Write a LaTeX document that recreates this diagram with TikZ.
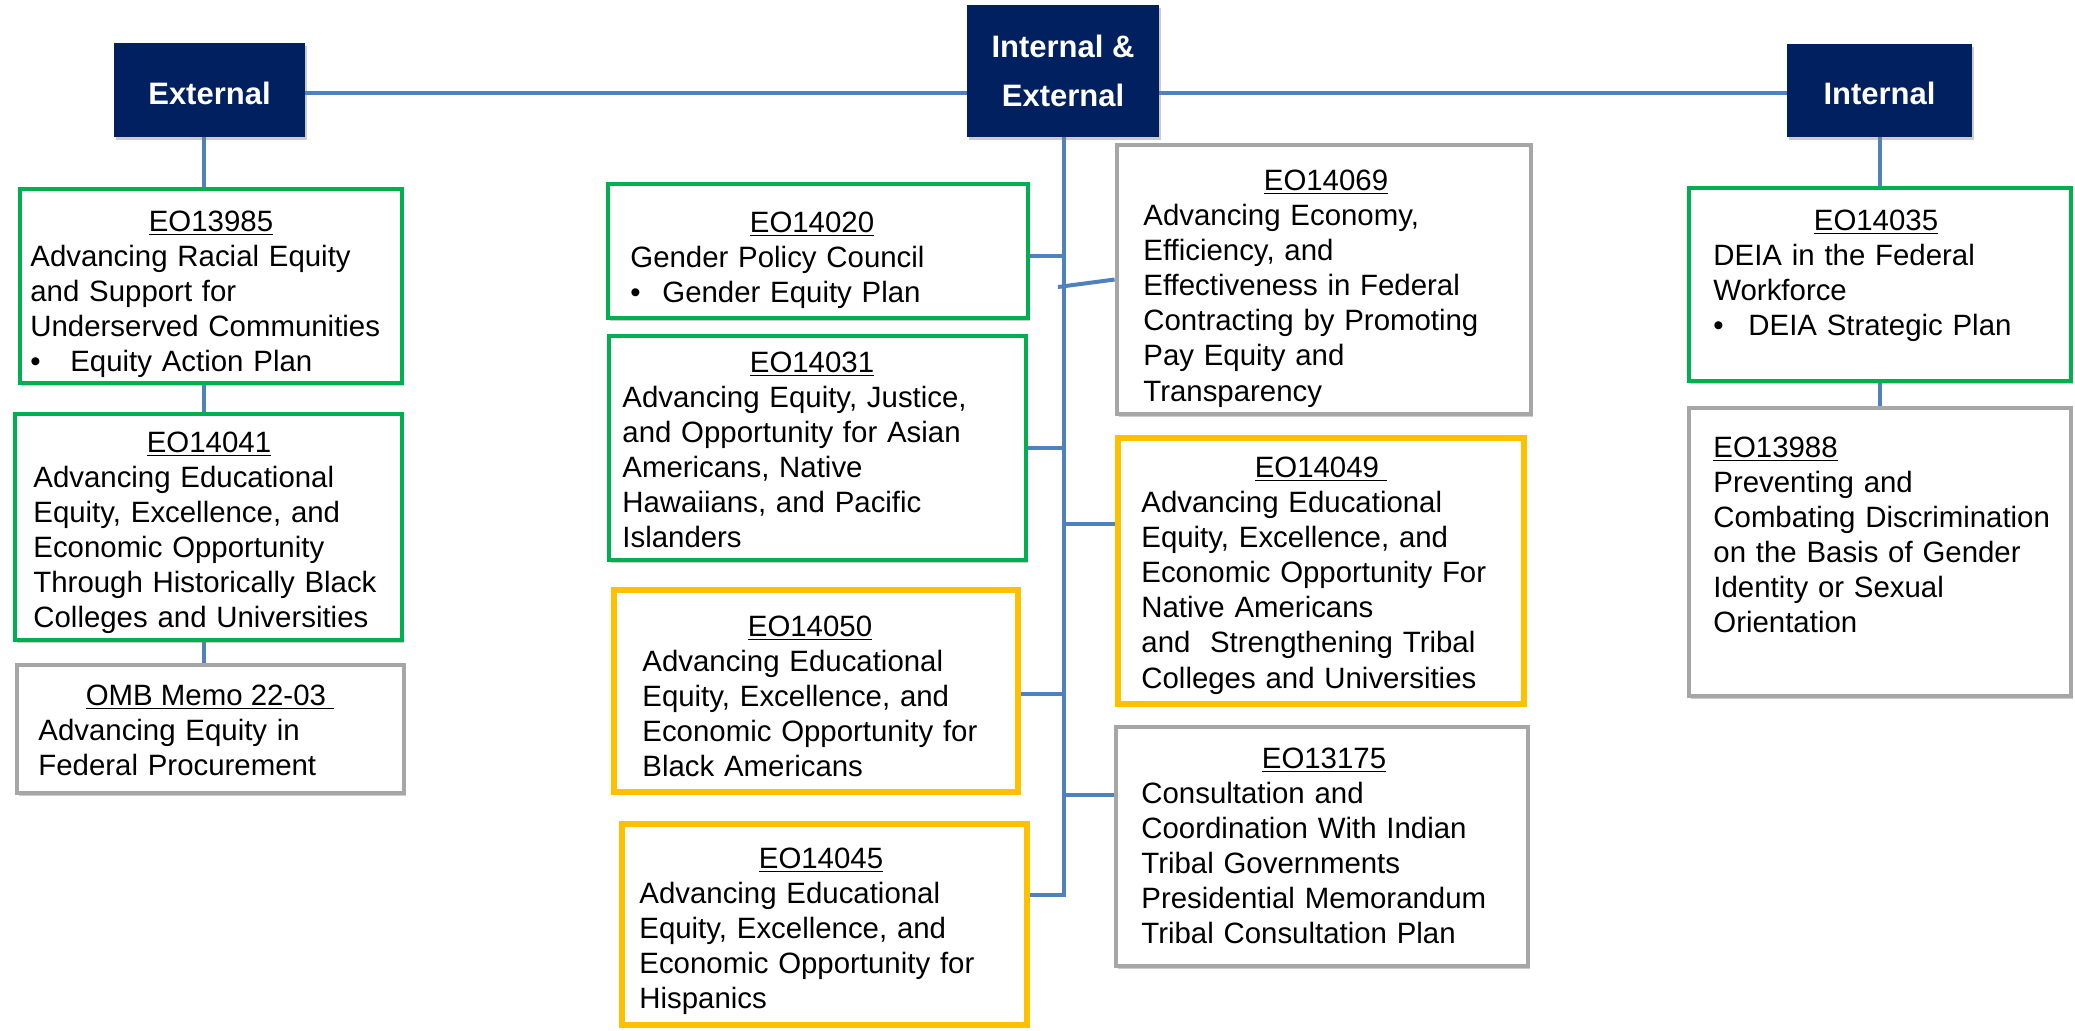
\documentclass[tikz,border=0pt]{standalone}
\usepackage{fontspec}
\setmainfont{Liberation Sans}
\usetikzlibrary{fit,shadows,backgrounds}
\definecolor{navy}{HTML}{002060}
\definecolor{bgreen}{HTML}{00B050}
\definecolor{byellow}{HTML}{FFC000}
\definecolor{bgray}{HTML}{A6A6A6}
\definecolor{lblue}{HTML}{4F81BD}
\newcommand\blt[1]{\makebox[#1][l]{\textbullet}}
\begin{document}
\begin{tikzpicture}[x=0.5pt,y=-0.5pt,
  shd/.style={drop shadow={opacity=0.4,shadow xshift=0.8pt,shadow yshift=-1.5pt}},
  hdr/.style={shd,fill=navy,draw=none,inner sep=0},
  hdrt/.style={inner sep=0,text=white,align=center,
    font=\fontsize{15.5}{24.5}\selectfont\bfseries},
  gbox/.style={shd,draw=bgreen,fill=white,line width=2.4pt,inner sep=0},
  ybox/.style={shd,draw=byellow,fill=white,line width=2.8pt,inner sep=0},
  kbox/.style={shd,draw=bgray,fill=white,line width=2.4pt,inner sep=0},
  ttl/.style={anchor=base,inner sep=0,font=\fontsize{14.7}{17.5}\selectfont},
  ttlw/.style={anchor=base west,inner sep=0,font=\fontsize{14.7}{17.5}\selectfont},
  body/.style={anchor=base west,inner sep=0,text width=215pt,align=left,
    font=\fontsize{14.7}{17.6}\selectfont},
  conn/.style={draw=lblue,line width=2pt}]
\useasboundingbox (0,0) rectangle (2075,1030);

% headers
\node[hdr,fit={(114,43) (305,137)}] (ext) {};
\node[hdrt] (lext) at ([yshift=-1.5pt]ext.center) {External};
\node[hdr,fit={(967,5) (1159,137)}] (ie) {};
\node[hdrt] (lie) at (ie.center) {Internal \&\\External};
\node[hdr,fit={(1787,44) (1972,137)}] (int) {};
\node[hdrt] (lint) at ([yshift=-1.5pt]int.center) {Internal};

% left column
\node[gbox,fit={(20,189) (402,383)}] (e13985) {};
\node[ttl] (t13985) at (211,231) {\underline{EO13985}};
\node[body] (b13985) at (30,266) {Advancing Racial Equity\\and Support for\\Underserved Communities\\\blt{20pt}Equity Action Plan};

\node[gbox,fit={(15,414) (402,640)}] (e14041) {};
\node[ttl] (t14041) at (209,452) {\underline{EO14041}};
\node[body] (b14041) at (33,487) {Advancing Educational\\Equity, Excellence, and\\Economic Opportunity\\Through Historically Black\\Colleges and Universities};

\node[kbox,fit={(17,665) (404,793)}] (omb) {};
\node[ttl] (tomb) at (210,705) {\underline{OMB Memo 22-03\ }};
\node[body] (bomb) at (38,740) {Advancing Equity in\\Federal Procurement};

% middle left
\node[gbox,fit={(608,184) (1028,318)}] (e14020) {};
\node[ttl] (t14020) at (812,232) {\underline{EO14020}};
\node[body] (b14020) at (630,267) {Gender Policy Council\\\blt{16pt}Gender Equity Plan};

\node[gbox,fit={(609,336) (1026,560)}] (e14031) {};
\node[ttl] (t14031) at (812,372) {\underline{EO14031}};
\node[body] (b14031) at (622,407) {Advancing Equity, Justice,\\and Opportunity for Asian\\Americans, Native\\Hawaiians, and Pacific\\Islanders};

\node[ybox,fit={(614,590) (1018,792)}] (e14050) {};
\node[ttl] (t14050) at (810,636) {\underline{EO14050}};
\node[body] (b14050) at (642,671) {Advancing Educational\\Equity, Excellence, and\\Economic Opportunity for\\Black Americans};

\node[ybox,fit={(622,824) (1027,1025)}] (e14045) {};
\node[ttl] (t14045) at (821,868) {\underline{EO14045}};
\node[body] (b14045) at (639,903) {Advancing Educational\\Equity, Excellence, and\\Economic Opportunity for\\Hispanics};

% middle right
\node[kbox,fit={(1117,145) (1531,414)}] (e14069) {};
\node[ttl] (t14069) at (1326,190) {\underline{EO14069}};
\node[body] (b14069) at (1143,225) {Advancing Economy,\\Efficiency, and\\Effectiveness in Federal\\Contracting by Promoting\\Pay Equity and\\Transparency};

\node[ybox,fit={(1118,438) (1524,704)}] (e14049) {};
\node[ttl] (t14049) at (1321,477) {\underline{EO14049\ }};
\node[body] (b14049) at (1141,512) {Advancing Educational\\Equity, Excellence, and\\Economic Opportunity For\\Native Americans\\and \ Strengthening Tribal\\Colleges and Universities};

\node[kbox,fit={(1116,727) (1528,966)}] (e13175) {};
\node[ttl] (t13175) at (1324,768) {\underline{EO13175}};
\node[body] (b13175) at (1141,803) {Consultation and\\Coordination With Indian\\Tribal Governments\\Presidential Memorandum\\Tribal Consultation Plan};

% right column
\node[gbox,fit={(1689,188) (2071,381)}] (e14035) {};
\node[ttl] (t14035) at (1876,230) {\underline{EO14035}};
\node[body] (b14035) at (1713,265) {DEIA in the Federal\\Workforce\\\blt{17.5pt}DEIA Strategic Plan};

\node[kbox,fit={(1689,408) (2071,696)}] (e13988) {};
\node[ttlw] (t13988) at (1713,457) {\underline{EO13988}};
\node[body] (b13988) at (1713,492) {Preventing and\\Combating Discrimination\\on the Basis of Gender\\Identity or Sexual\\Orientation};

% connector coordinates
\coordinate (hy) at (0,93);
\coordinate (lx) at (204,0);
\coordinate (j1) at (1064,256);
\coordinate (j2) at (1064,448);
\coordinate (j3) at (1064,694);
\coordinate (j4) at (1064,895);
\coordinate (k1) at (1058,287);
\coordinate (k2) at (1064,524);
\coordinate (k3) at (1064,795);

\begin{pgfonlayer}{background}
\draw[conn] (ext.east |- hy) -- (int.west |- hy);
\draw[conn] (ext.south -| lx) -- (e13985.north -| lx);
\draw[conn] (e13985.south -| lx) -- (e14041.north -| lx);
\draw[conn] (e14041.south -| lx) -- (omb.north -| lx);
\draw[conn] (ie.south -| j1) -- (j4);
\draw[conn] (j1) -- (j1 -| e14020.east);
\draw[conn] (j2) -- (j2 -| e14031.east);
\draw[conn] (j3) -- (j3 -| e14050.east);
\draw[conn] ([xshift=1pt]j4) -- (j4 -| e14045.east);
\draw[conn] (k1) -- (e14069.west);
\draw[conn] (k2) -- (k2 -| e14049.west);
\draw[conn] (k3) -- (k3 -| e13175.west);
\draw[conn] (int.south) -- (int.south |- e14035.north);
\draw[conn] (e14035.south -| int.south) -- (e13988.north -| int.south);
\end{pgfonlayer}
\end{tikzpicture}
\end{document}
